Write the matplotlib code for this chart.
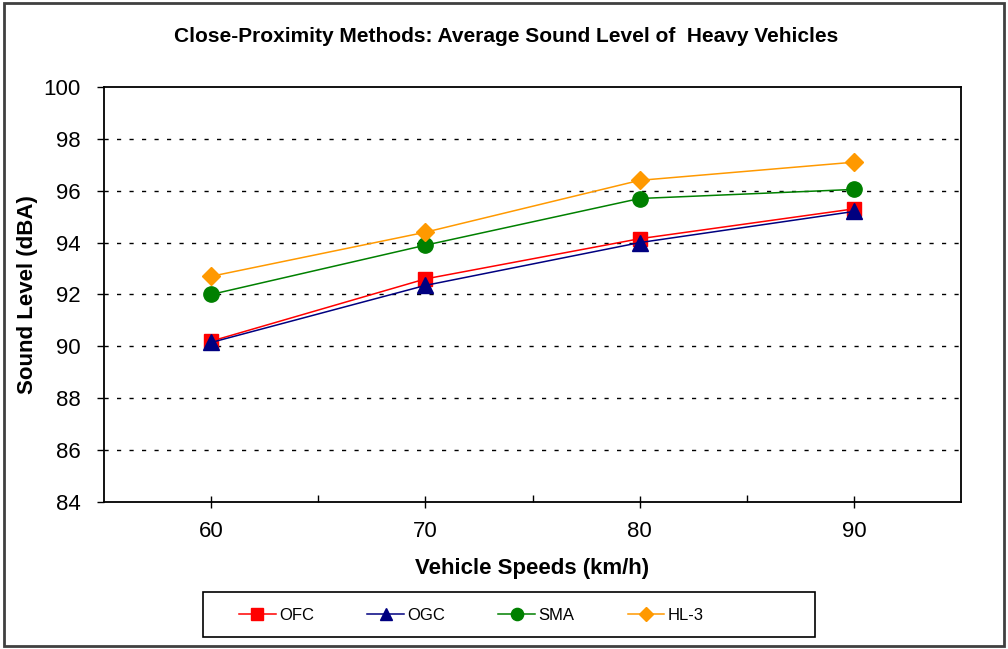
import matplotlib
matplotlib.use("Agg")
import matplotlib.pyplot as plt
from matplotlib.patches import Rectangle

plt.rcParams['font.family'] = ['Liberation Sans', 'DejaVu Sans']

# Average sound level (dBA) per vehicle speed
speeds = [60, 70, 80, 90]
ofc = [90.2, 92.6, 94.15, 95.3]
ogc = [90.15, 92.35, 94.0, 95.2]
sma = [92.0, 93.9, 95.7, 96.05]
hl3 = [92.7, 94.4, 96.4, 97.1]

fig = plt.figure(figsize=(10.08, 6.49), dpi=100)
ax = fig.add_axes([0.1032, 0.2265, 0.8502, 0.6395])

ax.plot(speeds, ofc, color='#FF0000', marker='s', markersize=10, lw=1.1, label='OFC', zorder=3)
ax.plot(speeds, ogc, color='#000080', marker='^', markersize=11, lw=1.1, label='OGC', zorder=4)
ax.plot(speeds, sma, color='#008000', marker='o', markersize=11, lw=1.1, label='SMA', zorder=3)
ax.plot(speeds, hl3, color='#FF9900', marker='D', markersize=9, lw=1.1, label='HL-3', zorder=3)

ax.set_xlim(55, 95)
ax.set_ylim(84, 100)
ax.set_xticks(speeds)
ax.set_xticks([65, 75, 85], minor=True)
ax.set_yticks(range(84, 101, 2))

# dashed horizontal grid
for y in range(86, 100, 2):
    ax.axhline(y, color='black', lw=1, dashes=(3, 6), zorder=1)

for s in ax.spines.values():
    s.set_linewidth(1.3)
ax.tick_params(axis='y', direction='out', length=5, width=1, pad=12, labelsize=16)
ax.tick_params(axis='x', which='major', direction='inout', length=9, width=1, pad=9, labelsize=16)
ax.tick_params(axis='x', which='minor', direction='in', length=5, width=1)

ax.set_xlabel('Vehicle Speeds (km/h)', fontsize=16, fontweight='bold', labelpad=12)
ax.set_ylabel('Sound Level (dBA)', fontsize=16, fontweight='bold', labelpad=4)

fig.text(0.502, 0.944, 'Close-Proximity Methods: Average Sound Level of  Heavy Vehicles',
         ha='center', va='center', fontsize=15, fontweight='bold')

# legend box, entries drawn without their own frame
fig.patches.append(Rectangle((0.2014, 0.0185), 0.6071, 0.0693, transform=fig.transFigure,
                             fill=False, edgecolor='black', lw=1.2))
fig.legend(loc='center left', bbox_to_anchor=(0.237, 0.052), ncol=4, frameon=False,
           fontsize=12, handlelength=2.2, handletextpad=0.2, columnspacing=3.2,
           borderaxespad=0, borderpad=0, markerscale=0.8)

# outer chart border
fig.patches.append(Rectangle((0.004, 0.004), 0.992, 0.992, transform=fig.transFigure,
                             fill=False, edgecolor='#404040', lw=2))

fig.savefig('out.png', dpi=100)
